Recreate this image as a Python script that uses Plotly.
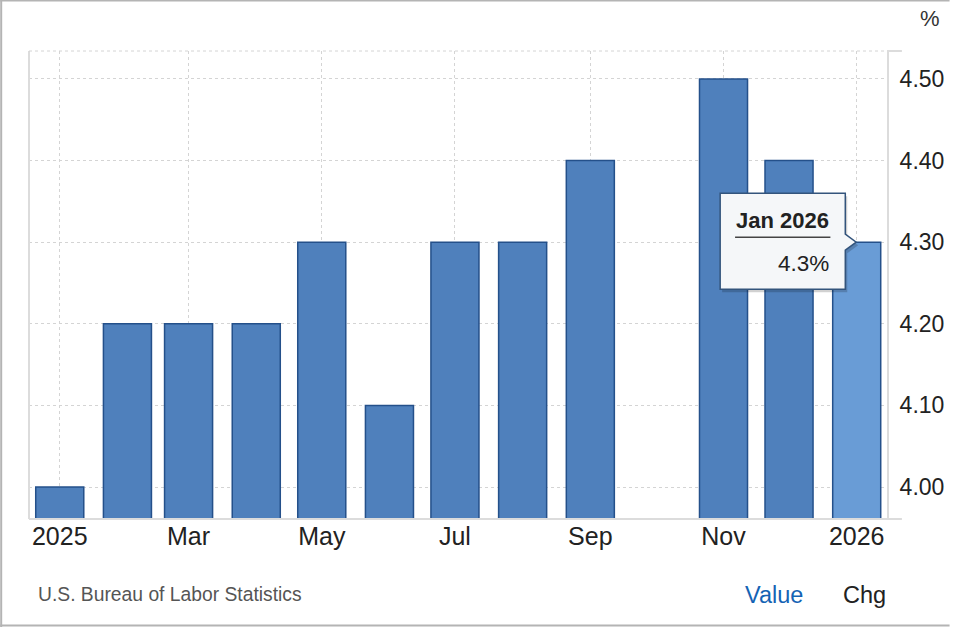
import plotly.graph_objects as go

# ---- data ----
months = ["2025-01-01", "2025-02-01", "2025-03-01", "2025-04-01", "2025-05-01",
          "2025-06-01", "2025-07-01", "2025-08-01", "2025-09-01",
          "2025-11-01", "2025-12-01", "2026-01-01"]
values = [4.0, 4.2, 4.2, 4.2, 4.3, 4.1, 4.3, 4.3, 4.4, 4.5, 4.4, 4.3]
tick_vals = ["2025-01-01", "2025-03-01", "2025-05-01", "2025-07-01",
             "2025-09-01", "2025-11-01", "2026-01-01"]
tick_text = ["2025", "Mar", "May", "Jul", "Sep", "Nov", "2026"]
y_ticks = [4.0, 4.1, 4.2, 4.3, 4.4, 4.5]
tooltip_title = "Jan 2026"
tooltip_value = "4.3%"
source = "U.S. Bureau of Labor Statistics"

# ---- styling ----
W, H = 956, 627
ML, MR, MT, MB = 29, 63, 51, 108
PW, PH = W - ML - MR, H - MT - MB
YMIN, YMAX = 3.9608, 4.5343
FONT = "Liberation Sans, Arial, Helvetica, sans-serif"
BAR = "#4f80bc"
BAR_HI = "#699cd6"
EDGE = "#24508a"

colors = [BAR] * (len(values) - 1) + [BAR_HI]


def px(x):
    return (x - ML) / PW


def py(y):
    return (H - MB - y) / PH


def dy(p):
    return p * (YMAX - YMIN) / PH


fig = go.Figure()
fig.add_trace(go.Bar(
    x=months, y=values, width=22 * 86400000,
    marker=dict(color=colors, line=dict(color=EDGE, width=1.5)),
    hoverinfo="skip",
))

fig.update_layout(
    width=W, height=H,
    margin=dict(l=ML, r=MR, t=MT, b=MB),
    plot_bgcolor="white", paper_bgcolor="white",
    showlegend=False,
    font=dict(family=FONT, color="#222"),
    xaxis=dict(
        type="date",
        range=["2024-12-17 22:00", "2026-01-14 21:00"],
        tickvals=tick_vals, ticktext=tick_text,
        showgrid=True, gridcolor="#d4d4d4", griddash="dot", gridwidth=1,
        showline=False, ticks="", zeroline=False,
        tickfont=dict(size=25, color="#222", family=FONT),
        fixedrange=True,
    ),
    yaxis=dict(
        side="right",
        range=[YMIN, YMAX],
        tickvals=y_ticks, tickformat=".2f",
        showgrid=True, gridcolor="#d4d4d4", griddash="dot", gridwidth=1,
        showline=True, linecolor="#dcdcdc", linewidth=2,
        ticks="", zeroline=False,
        tickfont=dict(size=23, color="#222", family=FONT),
        ticklabelstandoff=6,
        fixedrange=True,
    ),
)

shapes = []
# plot frame pieces
shapes.append(dict(type="line", xref="paper", yref="paper", x0=px(29), x1=px(29),
                   y0=0, y1=1, line=dict(color="#dcdcdc", width=2)))
shapes.append(dict(type="line", xref="paper", yref="paper", x0=px(29), x1=px(908),
                   y0=0, y1=0, line=dict(color="#dcdcdc", width=2)))
shapes.append(dict(type="line", xref="paper", yref="paper", x0=px(29), x1=1,
                   y0=1, y1=1, line=dict(color="#d4d4d4", width=1, dash="dot")))
shapes.append(dict(type="line", xref="paper", yref="paper", x0=1, x1=px(908),
                   y0=1, y1=1, line=dict(color="#dcdcdc", width=2)))
# outer image frame
shapes.append(dict(type="line", xref="paper", yref="paper", x0=px(0), x1=px(956),
                   y0=py(0.5), y1=py(0.5), line=dict(color="#b4b4b4", width=2)))
shapes.append(dict(type="line", xref="paper", yref="paper", x0=px(1), x1=px(1),
                   y0=py(0), y1=py(627), line=dict(color="#b4b4b4", width=2)))
shapes.append(dict(type="line", xref="paper", yref="paper", x0=px(0), x1=px(956),
                   y0=py(625.5), y1=py(625.5), line=dict(color="#b4b4b4", width=2)))

# tooltip anchored at the last value
tip_v = values[-1]
bx0, bx1, tipx = px(725), px(851), px(862)
top, bot = tip_v + dy(49), tip_v - dy(47)


def tooltip_path(ox=0.0, oy=0.0):
    pts = [(bx0, top), (bx1, top), (bx1, tip_v + dy(8)), (tipx, tip_v),
           (bx1, tip_v - dy(8)), (bx1, bot), (bx0, bot)]
    pts = [(x + ox, y + oy) for x, y in pts]
    return "M " + " L ".join(f"{x:.6f},{y:.6f}" for x, y in pts) + " Z"


shapes.append(dict(type="path", xref="paper", yref="y", path=tooltip_path(2 / PW, -dy(3)),
                   fillcolor="rgba(0,0,0,0.18)", line=dict(width=0)))
shapes.append(dict(type="path", xref="paper", yref="y", path=tooltip_path(),
                   fillcolor="#f5f7f9", line=dict(color="#33547c", width=1.5)))
shapes.append(dict(type="line", xref="paper", yref="y", x0=px(740), x1=px(836),
                   y0=tip_v + dy(5), y1=tip_v + dy(5), line=dict(color="#444", width=1.5)))

fig.update_layout(shapes=shapes)

ann = []
ann.append(dict(xref="paper", yref="y", x=px(788), y=tip_v + dy(22), text=f"<b>{tooltip_title}</b>",
                showarrow=False, xanchor="center", yanchor="middle",
                font=dict(size=22, color="#222", family=FONT)))
ann.append(dict(xref="paper", yref="y", x=px(837), y=tip_v - dy(21), text=tooltip_value,
                showarrow=False, xanchor="right", yanchor="middle",
                font=dict(size=22.5, color="#222", family=FONT)))
ann.append(dict(xref="paper", yref="paper", x=px(948), y=py(18), text="%",
                showarrow=False, xanchor="right", yanchor="middle",
                font=dict(size=22, color="#333", family=FONT)))
ann.append(dict(xref="paper", yref="paper", x=px(36), y=py(594), text=source,
                showarrow=False, xanchor="left", yanchor="middle",
                font=dict(size=19.3, color="#555", family=FONT)))
ann.append(dict(xref="paper", yref="paper", x=px(748), y=py(595), text="Value",
                showarrow=False, xanchor="left", yanchor="middle",
                font=dict(size=23.5, color="#1463b4", family=FONT)))
ann.append(dict(xref="paper", yref="paper", x=px(847), y=py(595), text="Chg",
                showarrow=False, xanchor="left", yanchor="middle",
                font=dict(size=23.5, color="#222", family=FONT)))
fig.update_layout(annotations=ann)

fig.write_html("out.html", config={"displayModeBar": False})
